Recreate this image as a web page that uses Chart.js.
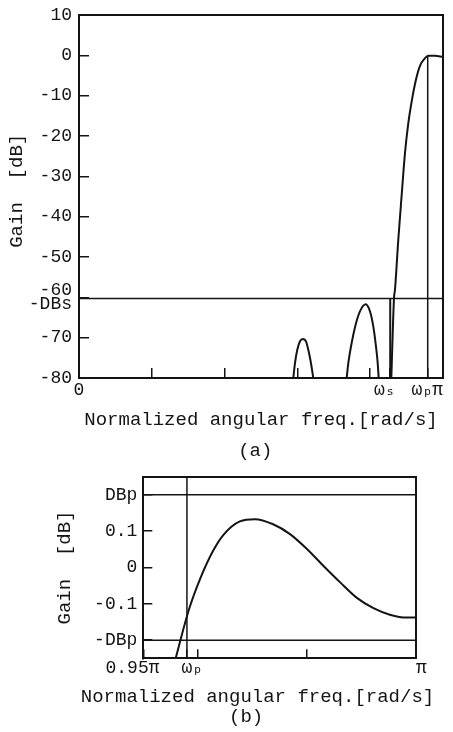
<!DOCTYPE html>
<html><head><meta charset="utf-8">
<script src="https://cdn.jsdelivr.net/npm/chart.js@4"></script>
<style>
html,body{margin:0;padding:0;background:#fff;}
body{width:453px;height:732px;position:relative;overflow:hidden;}
canvas{position:absolute;left:0;}
#ca{top:0}
#cb{top:460px}
</style></head><body>
<canvas id="ca" width="453" height="468"></canvas>
<canvas id="cb" width="453" height="272"></canvas>
<script>
// ---------------- data (frequencies in units of pi, gains in dB) ----------------
const wS = 0.855;        // stopband edge
const wP = 0.958;        // passband edge
const DBs = 60.3;        // stopband attenuation
const DBp = 0.2;         // passband ripple bound
const gainAtWp = -0.12;  // gain at passband edge

const lobe1Freq = [0.5887,0.5934,0.5997,0.6071,0.6146,0.6236,0.6299,0.6365,0.6437];
const lobe1Gain = [-80,-76.3,-73.0,-70.9,-70.3,-70.9,-73.0,-75.9,-80];
const lobe2Freq = [0.7354,0.7399,0.7491,0.7610,0.7738,0.7876,0.7995,0.8085,0.8159,0.8206,0.8233];
const lobe2Gain = [-80,-76.3,-71.3,-66.4,-63.1,-61.7,-63.5,-67.2,-72.2,-76.3,-80];
const mainFreq  = [0.858,0.8654,0.8681,0.8772,0.8865,0.8956,0.9047,0.914,0.9258,0.9368,0.9505,0.9596,0.978,1.0];
const mainGain  = [-80,-60.2,-58.1,-45.7,-34.6,-24.2,-16.8,-11.4,-6.0,-2.6,-0.7,-0.1,-0.1,-0.4];

const passFreq = [0.9559,0.9583,0.9604,0.9628,0.9647,0.9677,0.9705,0.9738,0.9769,0.9800,0.9830,0.9861,0.9891,0.9922,0.9952,0.9983,1.0];
const passGain = [-0.252,-0.119,-0.032,0.046,0.090,0.127,0.133,0.119,0.092,0.051,0.005,-0.041,-0.083,-0.112,-0.130,-0.138,-0.138];

const xTicksA  = [0,0.2,0.4,0.6,0.8,wS,wP,1];
const xLabelsA = ['0','','','','','ωₛ ','ωₚ ','π '];
const yTicksA  = [10,0,-10,-20,-30,-40,-50,-60,-70,-80];
const yLabelsA = ['10','0','-10','-20','-30','-40','-50',['-60','-DBs'],'-70','-80'];

const xTicksB  = [0.95,wP,0.96,0.98,1];
const xLabelsB = ['0.95π  ',' ωₚ','','',' π'];
const yTicksB  = [DBp,0.1,0,-0.1,-DBp];
const yLabelsB = ['DBp','0.1','0','-0.1','-DBp'];

const xTitle = 'Normalized angular freq.[rad/s]';
const yTitle = 'Gain  [dB]';
// -------------------------------------------------------------------------------

const INK = '#141414';
const FAM = '"Liberation Mono","DejaVu Sans Mono",monospace';
Chart.defaults.font.family = FAM;
Chart.defaults.color = INK;

const pts = (xs, ys) => xs.map((x, i) => ({x, y: ys[i]}));
const curve = (data) => ({data, showLine:true, pointRadius:0, borderColor:INK, borderWidth:2, cubicInterpolationMode:'monotone'});
const rule = (data, w) => ({data, showLine:true, pointRadius:0, borderColor:INK, borderWidth:w || 1.5, tension:0});
const setTicks = (vals) => (scale) => { scale.ticks = vals.map(v => ({value:v})); };
const fixH = (h) => (s) => { s.height = h; s.paddingLeft = 0; s.paddingRight = 0; };
const fixW = (w) => (s) => { s.width = w; s.paddingTop = 0; s.paddingBottom = 0; };

function frameAxes(xmin, xmax, ymin, ymax, rightW) {
  const common = {display:true, ticks:{display:false},
    grid:{display:true, drawOnChartArea:false, drawTicks:false},
    border:{display:true, color:INK, width:2}};
  return {
    x2: Object.assign({type:'linear', position:'top', min:xmin, max:xmax, afterFit:fixH(0)}, common),
    y2: Object.assign({type:'linear', position:'right', min:ymin, max:ymax, afterFit:fixW(rightW)}, common)
  };
}

// ---------------- chart (a) ----------------
new Chart(document.getElementById('ca'), {
  type:'scatter',
  data:{datasets:[
    curve(pts(lobe1Freq, lobe1Gain)),
    curve(pts(lobe2Freq, lobe2Gain)),
    curve(pts(mainFreq, mainGain)),
    rule(pts([0,1], [-DBs,-DBs])),
    rule(pts([wS,wS], [-80,-DBs]), 2),
    rule(pts([wP,wP], [-80,gainAtWp]))
  ]},
  options:{
    responsive:false, devicePixelRatio:1, animation:false,
    layout:{padding:{top:15, right:10, bottom:0, left:0}},
    plugins:{legend:{display:false}, tooltip:{enabled:false}},
    scales:Object.assign({
      x:{type:'linear', position:'bottom', min:0, max:1,
        afterBuildTicks:setTicks(xTicksA),
        afterFit:fixH(90),
        ticks:{autoSkip:false, maxRotation:0, minRotation:0, padding:11,
          font:{size:18}, color:INK, callback:(v,i)=>xLabelsA[i]},
        grid:{display:true, drawOnChartArea:false, drawTicks:true, tickLength:-10, color:INK, lineWidth:1.5},
        border:{display:true, color:INK, width:2},
        title:{display:true, text:[xTitle, '(a) '], color:INK,
          font:{size:19, lineHeight:'31px'}, padding:{top:0, bottom:1.5}}
      },
      y:{type:'linear', position:'left', min:-80, max:10,
        afterBuildTicks:setTicks(yTicksA),
        afterFit:fixW(79),
        ticks:{autoSkip:false, padding:17, font:{size:18, lineHeight:'14px'}, color:INK,
          callback:(v,i)=>yLabelsA[i]},
        grid:{display:true, drawOnChartArea:false, drawTicks:true, tickLength:-10, color:INK, lineWidth:1.5},
        border:{display:true, color:INK, width:2},
        title:{display:true, text:' ' + yTitle, color:INK, font:{size:19}, padding:{top:5.6, bottom:0}}
      }
    }, frameAxes(0,1,-80,10,0))
  }
});

// ---------------- chart (b) ----------------
new Chart(document.getElementById('cb'), {
  type:'scatter',
  data:{datasets:[
    curve(pts(passFreq, passGain)),
    rule(pts([0.95,1], [DBp,DBp])),
    rule(pts([0.95,1], [-DBp,-DBp])),
    rule(pts([wP,wP], [-0.25,0.25]))
  ]},
  options:{
    responsive:false, devicePixelRatio:1, animation:false,
    layout:{padding:{top:16.7, right:0, bottom:0, left:62}},
    plugins:{legend:{display:false}, tooltip:{enabled:false},
      title:{display:true, position:'bottom', text:[xTitle, '(b)  '], color:INK,
        font:{size:19, weight:'normal', lineHeight:'20px'}, padding:{top:0, bottom:5.5}}
    },
    scales:Object.assign({
      x:{type:'linear', position:'bottom', min:0.95, max:1,
        afterBuildTicks:setTicks(xTicksB),
        afterFit:fixH(28.2),
        ticks:{autoSkip:false, maxRotation:0, minRotation:0, padding:8,
          font:{size:18}, color:INK, callback:(v,i)=>xLabelsB[i]},
        grid:{display:true, drawOnChartArea:false, drawTicks:true, tickLength:-9, color:INK, lineWidth:1.5},
        border:{display:true, color:INK, width:2}
      },
      y:{type:'linear', position:'left', min:-0.25, max:0.25,
        afterBuildTicks:setTicks(yTicksB),
        afterFit:fixW(81.3),
        ticks:{autoSkip:false, padding:15, font:{size:18}, color:INK,
          callback:(v,i)=>yLabelsB[i]},
        grid:{display:true, drawOnChartArea:false, drawTicks:true, tickLength:-9, color:INK, lineWidth:1.5},
        border:{display:true, color:INK, width:2},
        title:{display:true, text:yTitle, color:INK, font:{size:19}, padding:{top:-8.4, bottom:0}}
      }
    }, frameAxes(0.95,1,-0.25,0.25,37))
  }
});
</script>
</body></html>
